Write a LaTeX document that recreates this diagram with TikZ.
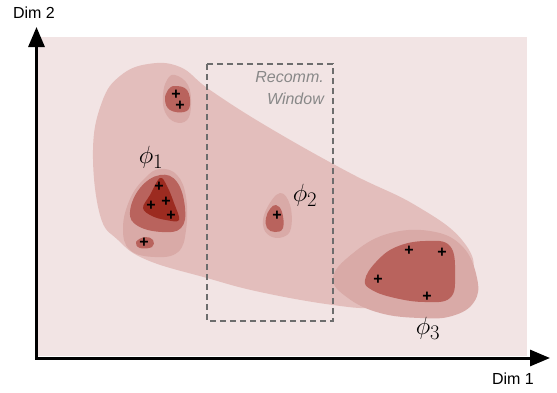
\documentclass[tikz,border=0pt]{standalone}
\usepackage{fontspec}
\setmainfont{Liberation Sans}
\usetikzlibrary{arrows.meta}

\definecolor{bgpink}{HTML}{F2E4E4}
\definecolor{lvone}{HTML}{E3BEBC}
\definecolor{lvtwo}{HTML}{D9AAA7}
\definecolor{lvthree}{HTML}{B9635D}
\definecolor{lvfour}{HTML}{9C2B20}
\definecolor{wingray}{HTML}{888888}

\begin{document}
\begin{tikzpicture}[x=1pt, y=-1pt,
    plus/.style={inner sep=0pt, font=\fontsize{16}{16}\selectfont\bfseries},
    philabel/.style={inner sep=0pt, font=\fontsize{30}{32}\selectfont},
    axislabel/.style={inner sep=0pt, font=\fontsize{16}{18}\selectfont},
    axis/.style={line width=3pt, {Triangle[length=20pt,width=16pt]}-{Triangle[length=20pt,width=16pt]}}]
        \useasboundingbox (0,0) rectangle (557,392);

        % Draw background
        \fill[bgpink] (38,37) rectangle (527,356);

        % Draw large region
        \fill[lvone] plot[smooth cycle, tension=0.7] coordinates {(93,150) (102,102) (120,76) (148,64) (180,67) (210,90) (268,127) (350,173) (415,205) (462,240) (472,275) (440,302) (380,308) (333,305) (260,292) (207,278) (147,260) (118,240) (100,215)};

        % Draw cluster 3
        \fill[lvtwo] plot[smooth cycle, tension=0.7] coordinates {(333,278) (352,254) (387,234) (430,231) (462,246) (477,278) (474,302) (452,316) (420,318) (380,313) (348,298)};
        \fill[lvthree] plot[smooth cycle, tension=0.7] coordinates {(365,280) (376,262) (396,247) (425,241) (450,246) (455,275) (450,298) (425,302) (395,298) (372,290)};

        % Draw cluster 1
        \fill[lvtwo] plot[smooth cycle, tension=0.7] coordinates {(160,169) (177,175) (186,197) (186,230) (178,252) (155,257) (130,250) (123,228) (130,199) (145,178)};
        \fill[lvthree] plot[smooth cycle, tension=0.7] coordinates {(160,175) (177,182) (185,208) (181,228) (162,232) (138,226) (130,212) (140,188)};
        \fill[lvfour] plot[smooth cycle, tension=0.6] coordinates {(160,178) (150,195) (143,208) (152,216) (166,220) (179,220) (174,203) (167,186)};
        \fill[lvthree] plot[smooth cycle, tension=0.7] coordinates {(136,242) (145,237) (153,240) (152,247) (140,248)};

        % Draw top cluster
        \fill[lvtwo] plot[smooth cycle, tension=0.7] coordinates {(175,75) (188,85) (191,105) (187,120) (175,122) (165,112) (163,95) (167,80)};
        \fill[lvthree] plot[smooth cycle, tension=0.7] coordinates {(175,86) (187,90) (190,105) (184,112) (170,110) (165,100) (168,90)};

        % Draw cluster 2
        \fill[lvtwo] plot[smooth cycle, tension=0.7] coordinates {(280,193) (290,205) (291,228) (283,237) (270,236) (263,225) (267,208)};
        \fill[lvthree] plot[smooth cycle, tension=0.7] coordinates {(276,205) (282,212) (283,228) (275,232) (267,228) (266,218) (270,209)};

        % Draw points
        \node[plus] (p1) at (176,95) {+};
        \node[plus] (p2) at (180,106) {+};
        \node[plus] (p3) at (159,187) {+};
        \node[plus] (p4) at (151,206) {+};
        \node[plus] (p5) at (166,202) {+};
        \node[plus] (p6) at (171,216) {+};
        \node[plus] (p7) at (144,243) {+};
        \node[plus] (p8) at (277,216) {+};
        \node[plus] (p9) at (409,251) {+};
        \node[plus] (p10) at (442,253) {+};
        \node[plus] (p11) at (378,280) {+};
        \node[plus] (p12) at (427,297) {+};

        % Draw window
        \draw[wingray!80!black, line width=1.2pt, dash pattern=on 6pt off 4pt] (207,64) rectangle (333,321);
        \node[anchor=north east, align=right, inner sep=0pt, text=wingray, font=\fontsize{16}{22}\selectfont\itshape] (win) at (324,71) {Recomm.\\Window};

        % Labels
        \node[philabel] (phi1) at (151,157) {$\phi_1$};
        \node[philabel] (phi2) at (305,195) {$\phi_2$};
        \node[philabel] (phi3) at (428,328) {$\phi_3$};

        % Draw axes
        \coordinate (ytip) at (36.5,27);
        \coordinate (xtip) at (550,358);
        \draw[axis] (ytip) |- (xtip);
        \node[axislabel] (dim2) at (34,13) {Dim 2};
        \node[axislabel] (dim1) at (513,379) {Dim 1};
    \end{tikzpicture}
\end{document}
